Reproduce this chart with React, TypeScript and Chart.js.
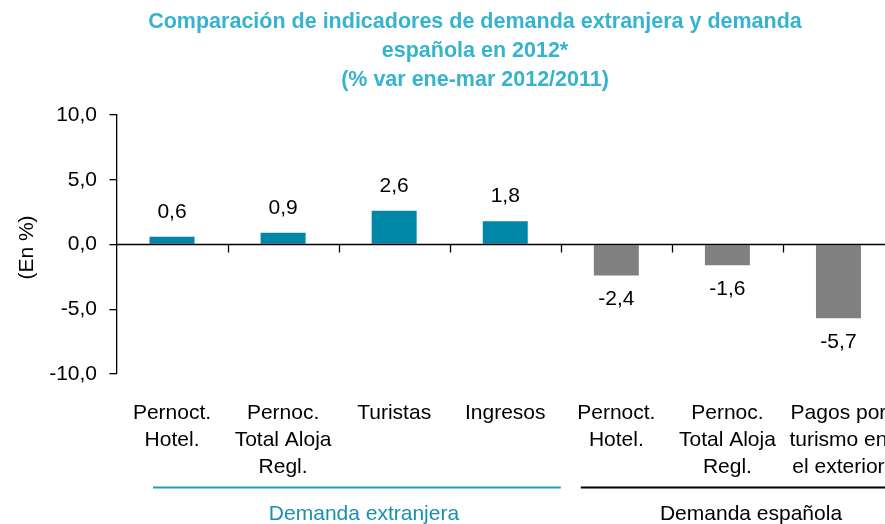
import React, { useEffect, useRef } from "react";
import { Chart, registerables } from "chart.js";

Chart.register(...registerables);

const categories: string[][] = [
  ["Pernoct.", "Hotel."],
  ["Pernoc.", "Total Aloja", "Regl."],
  ["Turistas"],
  ["Ingresos"],
  ["Pernoct.", "Hotel."],
  ["Pernoc.", "Total Aloja", "Regl."],
  ["Pagos por", "turismo en", "el exterior"],
];
const values: number[] = [0.6, 0.9, 2.6, 1.8, -2.4, -1.6, -5.7];
const barColors: string[] = ["#0087a8", "#0087a8", "#0087a8", "#0087a8", "#808080", "#808080", "#808080"];
const titleLines: string[] = [
  "Comparación de indicadores de demanda extranjera y demanda",
  "española en 2012*",
  "(% var ene-mar 2012/2011)",
];
const yAxisTitle = "(En %)";
const groupLabels: string[] = ["Demanda extranjera", "Demanda española"];
const groupRanges: number[][] = [
  [0, 3],
  [4, 6],
];
const groupColors: string[] = ["#1f9cc0", "#000000"];
const groupTextColors: string[] = ["#1a8fb3", "#000000"];

const FONT = "Arial, 'Liberation Sans', sans-serif";
const fmt = (v: number) => v.toFixed(1).replace(".", ",");

const overlayPlugin = {
  id: "overlay",
  afterDraw(chart: any) {
    const ctx = chart.ctx as CanvasRenderingContext2D;
    const x = chart.scales.x;
    const y = chart.scales.y;
    const area = chart.chartArea;
    const y0 = y.getPixelForValue(0);
    const catW = (area.right - area.left) / categories.length;
    ctx.save();

    // zero line
    ctx.strokeStyle = "#000";
    ctx.lineWidth = 1.3;
    ctx.beginPath();
    ctx.moveTo(area.left, y0);
    ctx.lineTo(area.right + 20, y0);
    ctx.stroke();
    // category boundary ticks
    for (let i = 1; i <= categories.length; i++) {
      const px = Math.round(area.left + i * catW) + 0.5;
      ctx.beginPath();
      ctx.moveTo(px, y0);
      ctx.lineTo(px, y0 + 8);
      ctx.stroke();
    }

    // data labels
    ctx.fillStyle = "#000";
    ctx.font = `21px ${FONT}`;
    ctx.textAlign = "center";
    ctx.textBaseline = "middle";
    const meta = chart.getDatasetMeta(0);
    meta.data.forEach((bar: any, i: number) => {
      const v = values[i];
      const yy = v >= 0 ? bar.y - 25 : bar.y + 24;
      ctx.fillText(fmt(v), bar.x, yy);
    });

    // title
    ctx.fillStyle = "#35b3cf";
    ctx.font = `bold 21.5px ${FONT}`;
    titleLines.forEach((t, i) => {
      ctx.fillText(t, 475, 22 + i * 29);
    });

    // y axis title
    ctx.save();
    ctx.translate(27, (area.top + area.bottom) / 2 + 3);
    ctx.rotate(-Math.PI / 2);
    ctx.fillStyle = "#000";
    ctx.font = `21px ${FONT}`;
    ctx.fillText(yAxisTitle, 0, 0);
    ctx.restore();

    // group lines & labels
    const lineY = 487.5;
    groupRanges.forEach((r, g) => {
      const startX = g === 0 ? x.getPixelForValue(r[0]) - 19 : area.left + r[0] * catW + 20;
      const endX = g === 0 ? area.left + (r[1] + 1) * catW : area.right + 30;
      ctx.strokeStyle = groupColors[g];
      ctx.lineWidth = 2;
      ctx.beginPath();
      ctx.moveTo(startX, lineY);
      ctx.lineTo(endX, lineY);
      ctx.stroke();
      ctx.fillStyle = groupTextColors[g];
      ctx.font = `21px ${FONT}`;
      const cx = g === 0 ? 364 : 751;
      ctx.fillText(groupLabels[g], cx, 514);
    });

    ctx.restore();
  },
};

export default function App() {
  const ref = useRef<HTMLCanvasElement>(null);
  useEffect(() => {
    if (!ref.current) return;
    const chart = new Chart(ref.current, {
      type: "bar",
      data: {
        labels: categories,
        datasets: [
          {
            data: values,
            backgroundColor: barColors,
            borderWidth: 0,
            categoryPercentage: 1,
            barPercentage: 0.405,
          },
        ],
      },
      options: {
        animation: false,
        responsive: false,
        layout: { padding: { top: 115, right: 16, bottom: 0, left: 0 } },
        plugins: {
          legend: { display: false },
          title: { display: false },
          tooltip: { enabled: false },
        },
        scales: {
          x: {
            grid: { display: false },
            border: { display: false },
            ticks: {
              color: "#000",
              font: { family: FONT, size: 21, lineHeight: 1.286 },
              padding: 17.5,
              maxRotation: 0,
              autoSkip: false,
            },
            afterFit: (axis: any) => {
              axis.height = 150;
            },
          },
          y: {
            min: -10,
            max: 10,
            ticks: {
              stepSize: 5,
              color: "#000",
              font: { family: FONT, size: 21 },
              padding: 12.5,
              callback: (v: any) => fmt(Number(v)),
            },
            grid: {
              display: true,
              drawOnChartArea: false,
              drawTicks: true,
              tickLength: 7,
              color: "#000",
              lineWidth: 1.3,
            },
            border: { display: true, color: "#000", width: 1.3 },
            afterFit: (axis: any) => {
              axis.width = 116.5;
            },
          },
        },
      },
      plugins: [overlayPlugin],
    });
    return () => chart.destroy();
  }, []);
  return (
    <div
      style={{
        position: "fixed",
        left: 0,
        top: 0,
        width: 885,
        height: 524,
        overflow: "hidden",
        background: "#fff",
      }}
    >
      <canvas ref={ref} width={910} height={524} style={{ width: 910, height: 524, display: "block" }} />
    </div>
  );
}
